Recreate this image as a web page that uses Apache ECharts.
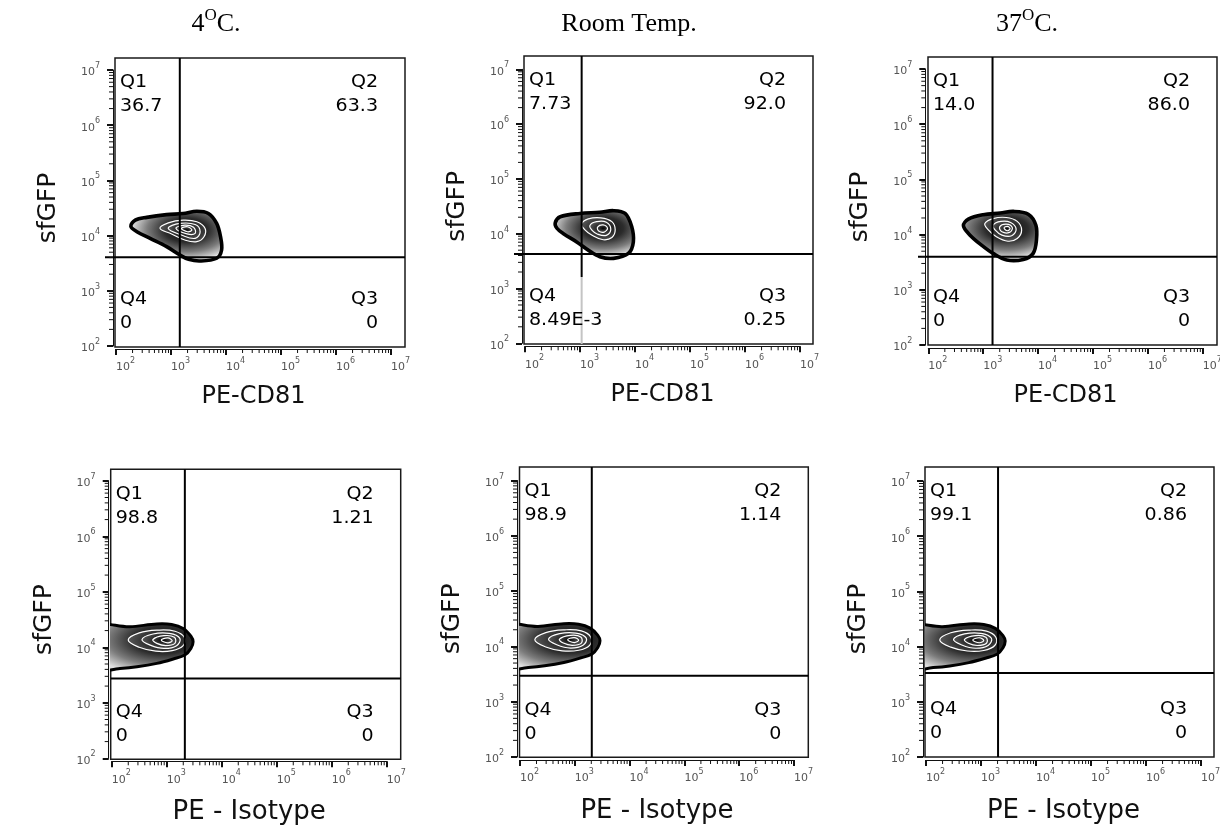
<!DOCTYPE html>
<html><head><meta charset="utf-8">
<script src="https://cdn.jsdelivr.net/npm/echarts@6/dist/echarts.min.js"></script>
<style>html,body{margin:0;padding:0;background:#fff}#c{width:1220px;height:837px}</style>
</head><body><div id="c"></div>
<script>
// ================= DATA =================
// Column (condition) titles; {O} marks the superscript "O"
const conditionTitles = ['4{O}C.', 'Room Temp.', '37{O}C.'];
// Panel order: top row (PE-CD81) left→right, bottom row (PE - Isotype) left→right
const xTitles = ['PE-CD81', 'PE-CD81', 'PE-CD81', 'PE - Isotype', 'PE - Isotype', 'PE - Isotype'];
const yTitle = 'sfGFP';
const quadrantNames = ['Q1', 'Q2', 'Q3', 'Q4'];
const q1Values = ['36.7', '7.73', '14.0', '98.8', '98.9', '99.1'];
const q2Values = ['63.3', '92.0', '86.0', '1.21', '1.14', '0.86'];
const q3Values = ['0', '0.25', '0', '0', '0', '0'];
const q4Values = ['0', '8.49E-3', '0', '0', '0', '0'];
// Axis decades (log10 exponents) used for tick labels
const tickExponents = [2, 3, 4, 5, 6, 7];
// Quadrant gate positions (log10 units)
const gateX = [3.16, 3.03, 3.17, 3.33, 3.31, 3.31];
const gateY = [3.61, 3.63, 3.60, 3.44, 3.47, 3.52];
// lower part of the vertical gate drawn faint below this level (log10), null = none
const gateXFadeBelow = [null, 3.21, null, null, null, null];
// Contour centres (log10 units)
const contourCenters = [[3.28, 4.10], [3.42, 4.10], [3.43, 4.11], [2.94, 4.13], [2.91, 4.12], [2.89, 4.12]];
// Outermost contour of each population (log10 x, log10 y)
const outerContours = [
  [[2.27,4.17],[2.35,4.28],[2.56,4.33],[2.92,4.38],[3.22,4.40],[3.47,4.44],[3.68,4.40],[3.83,4.22],[3.90,3.98],[3.92,3.74],[3.83,3.59],[3.53,3.54],[3.32,3.57],[3.16,3.65],[2.92,3.80],[2.62,3.95],[2.38,4.07]],
  [[2.55,4.20],[2.64,4.31],[3.00,4.37],[3.36,4.39],[3.61,4.42],[3.82,4.37],[3.94,4.13],[3.97,3.85],[3.88,3.64],[3.61,3.55],[3.36,3.58],[3.15,3.70],[2.94,3.85],[2.70,4.00],[2.58,4.10]],
  [[2.64,4.16],[2.73,4.28],[3.00,4.36],[3.31,4.39],[3.55,4.42],[3.82,4.37],[3.96,4.17],[3.97,3.90],[3.91,3.66],[3.73,3.55],[3.43,3.54],[3.18,3.66],[2.97,3.81],[2.76,3.99]],
  [[1.70,4.37],[2.33,4.37],[2.82,4.42],[3.09,4.41],[3.30,4.34],[3.44,4.20],[3.48,4.10],[3.44,3.98],[3.33,3.86],[3.12,3.79],[2.82,3.71],[2.46,3.65],[2.15,3.62],[1.70,3.60]],
  [[1.70,4.36],[2.33,4.36],[2.80,4.41],[3.07,4.40],[3.28,4.33],[3.42,4.20],[3.46,4.10],[3.42,3.98],[3.31,3.86],[3.10,3.79],[2.80,3.71],[2.45,3.65],[2.15,3.62],[1.70,3.60]],
  [[1.70,4.36],[2.30,4.36],[2.78,4.41],[3.05,4.40],[3.26,4.33],[3.40,4.20],[3.44,4.10],[3.40,3.98],[3.29,3.86],[3.08,3.79],[2.78,3.71],[2.43,3.65],[2.13,3.62],[1.70,3.60]]
];
// Inner contour levels (log10 x, log10 y), outermost first
const innerContours = [
  [
    [[2.80,4.13],[2.95,4.23],[3.22,4.28],[3.47,4.25],[3.62,4.13],[3.60,3.98],[3.47,3.89],[3.25,3.92],[3.01,4.03]],
    [[2.95,4.13],[3.16,4.22],[3.44,4.20],[3.53,4.07],[3.44,3.95],[3.19,4.01]],
    [[3.09,4.13],[3.25,4.19],[3.41,4.15],[3.44,4.04],[3.29,4.03]],
    [[3.19,4.13],[3.30,4.16],[3.38,4.10],[3.30,4.07]]
  ],
  [
    [[3.03,4.18],[3.15,4.27],[3.38,4.29],[3.58,4.22],[3.64,4.07],[3.58,3.93],[3.42,3.89],[3.22,3.97],[3.08,4.08]],
    [[3.18,4.15],[3.30,4.22],[3.48,4.21],[3.56,4.08],[3.48,3.97],[3.32,3.99],[3.22,4.06]],
    [[3.32,4.12],[3.42,4.16],[3.50,4.10],[3.44,4.03],[3.34,4.05]]
  ],
  [
    [[3.03,4.20],[3.18,4.29],[3.42,4.31],[3.62,4.24],[3.70,4.08],[3.62,3.93],[3.45,3.88],[3.24,3.96],[3.08,4.10]],
    [[3.18,4.17],[3.32,4.24],[3.50,4.22],[3.60,4.10],[3.52,3.98],[3.34,3.99],[3.22,4.08]],
    [[3.30,4.14],[3.42,4.19],[3.53,4.13],[3.48,4.04],[3.34,4.05]],
    [[3.38,4.12],[3.44,4.15],[3.49,4.11],[3.44,4.07]]
  ],
  [
    [[2.30,4.13],[2.50,4.26],[2.85,4.31],[3.15,4.29],[3.32,4.18],[3.30,4.03],[3.10,3.94],[2.80,3.93],[2.50,4.00]],
    [[2.55,4.14],[2.75,4.24],[3.05,4.25],[3.24,4.16],[3.18,4.03],[2.95,3.98],[2.70,4.04]],
    [[2.75,4.14],[2.95,4.21],[3.14,4.18],[3.15,4.07],[2.98,4.03],[2.82,4.07]],
    [[2.90,4.13],[3.02,4.17],[3.10,4.12],[3.02,4.08]]
  ],
  [
    [[2.27,4.12],[2.47,4.25],[2.82,4.30],[3.12,4.28],[3.29,4.17],[3.27,4.02],[3.07,3.93],[2.77,3.92],[2.47,3.99]],
    [[2.52,4.13],[2.72,4.23],[3.02,4.24],[3.21,4.15],[3.15,4.02],[2.92,3.97],[2.67,4.03]],
    [[2.72,4.13],[2.92,4.20],[3.11,4.17],[3.12,4.06],[2.95,4.02],[2.79,4.06]],
    [[2.87,4.12],[2.99,4.16],[3.07,4.11],[2.99,4.07]]
  ],
  [
    [[2.25,4.12],[2.45,4.25],[2.80,4.30],[3.10,4.28],[3.27,4.17],[3.25,4.02],[3.05,3.93],[2.75,3.92],[2.45,3.99]],
    [[2.50,4.13],[2.70,4.23],[3.00,4.24],[3.19,4.15],[3.13,4.02],[2.90,3.97],[2.65,4.03]],
    [[2.70,4.13],[2.90,4.20],[3.09,4.17],[3.10,4.06],[2.93,4.02],[2.77,4.06]],
    [[2.85,4.12],[2.97,4.16],[3.05,4.11],[2.97,4.07]]
  ]
];

// ================= LAYOUT / STYLE =================
// frame [left, top, right, bottom] px; x0/y0 = pixel of 10^2, dx/dy = px per decade
const layouts = [
  {frame:[115,58,405,347],       x0:116,   dx:55,   y0:346,   dy:55.2, gateExt:10, squash:0.55},
  {frame:[524,56,813,344],       x0:525,   dx:55,   y0:343.3, dy:54.8, gateExt:10, squash:0.55},
  {frame:[928,57,1217,345],      x0:928.3, dx:54.9, y0:345,   dy:55.2, gateExt:10, squash:0.55},
  {frame:[110.7,469.3,400.7,759.3], x0:111.7, dx:55, y0:758.3, dy:55.5, gateExt:0, squash:0.45},
  {frame:[519.5,467,808.3,757.3], x0:520,  dx:54.8, y0:757,   dy:55.3, gateExt:0, squash:0.45},
  {frame:[925,467,1214,757],     x0:926,   dx:55,   y0:757,   dy:55.2, gateExt:0, squash:0.45}
];
const titlePos = [[216, 22], [629, 22], [1027, 22]];
const FONT = '"DejaVu Sans", Verdana, sans-serif';
const outerStops = [{offset:0,color:'#080808'},{offset:0.4,color:'#2c2c2c'},{offset:0.72,color:'#7c7c7c'},{offset:1,color:'#dedede'}];
const ringStops = [{offset:0,color:'#000'},{offset:1,color:'#5c5c5c'}];

// minor tick positions (log10 of 2..9 × 10^n)
const minorTickPos = [];
for (let n = 2; n < 7; n++) for (let k = 2; k <= 9; k++) minorTickPos.push(n + Math.log10(k));

function shadedFill(pts, c, k, stops, rf, xClamp) {
  const local = pts.map(p => [p[0] - c[0], (p[1] - c[1]) / k]);
  let R = 0;
  pts.forEach(p => { const x = Math.max(p[0], xClamp); R = Math.max(R, Math.hypot(x - c[0], (p[1] - c[1]) / k)); });
  return {type:'polygon', x:c[0], y:c[1], scaleY:k,
    shape:{points: local, smooth:0.4},
    style:{fill:{type:'radial', x:0, y:0, r:R * rf, global:true, colorStops:stops}, stroke:null}};
}
function seg(x1, y1, x2, y2, color, w) {
  return {type:'line', shape:{x1, y1, x2, y2}, style:{stroke:color, lineWidth:w}};
}

const option = {animation:false, backgroundColor:'#fff', grid:[], xAxis:[], yAxis:[], series:[], graphic:[]};

layouts.forEach((L, i) => {
  const [l, t, r, b] = L.frame;
  const ex = px => 2 + (px - L.x0) / L.dx;
  const ey = py => 2 + (L.y0 - py) / L.dy;
  // data frame grid
  option.grid.push({left:l, top:t, width:r - l, height:b - t, show:true, borderColor:'#1a1a1a', borderWidth:1.5,
    backgroundColor:'transparent', containLabel:false, outerBoundsMode:'none'});
  // tick grid (10^2..10^7)
  option.grid.push({left:L.x0, top:L.y0 - 5 * L.dy, width:5 * L.dx, height:5 * L.dy, show:false, containLabel:false, outerBoundsMode:'none'});
  option.xAxis.push({gridIndex:2 * i, type:'value', min:ex(l), max:ex(r), show:false});
  option.yAxis.push({gridIndex:2 * i, type:'value', min:ey(b), max:ey(t), show:false});
  const supLabel = v => tickExponents.indexOf(v) >= 0 ? '{b|10}{s|' + v + '}' : '';
  const richTick = {
    b:{fontFamily:FONT, fontSize:11, color:'#555', lineHeight:16, verticalAlign:'bottom'},
    s:{fontFamily:FONT, fontSize:8, color:'#555', lineHeight:9, verticalAlign:'top'}
  };
  option.xAxis.push({gridIndex:2 * i + 1, type:'value', min:2, max:7, interval:1, position:'bottom', offset:3,
    axisLine:{show:true, lineStyle:{color:'#111', width:1}},
    axisTick:{show:true, length:6, lineStyle:{color:'#111', width:2}},
    axisLabel:{show:true, margin:8, align:'left', formatter:supLabel, rich:richTick},
    splitLine:{show:false},
    name:xTitles[i], nameLocation:'middle', nameGap:i < 3 ? 36 : 38, nameMoveOverlap:false,
    nameTextStyle:{fontFamily:FONT, fontSize:i < 3 ? 24 : 26, color:'#111'}});
  option.yAxis.push({gridIndex:2 * i + 1, type:'value', min:2, max:7, interval:1, position:'left', offset:3,
    axisLine:{show:true, lineStyle:{color:'#111', width:1}},
    axisTick:{show:true, length:6, lineStyle:{color:'#111', width:2}},
    axisLabel:{show:true, margin:13, formatter:supLabel, rich:richTick},
    splitLine:{show:false},
    name:yTitle, nameLocation:'middle', nameRotate:90, nameGap:52, nameMoveOverlap:false,
    nameTextStyle:{fontFamily:FONT, fontSize:25, color:'#111'}});

  // contour plot
  option.series.push({type:'custom', xAxisIndex:2 * i, yAxisIndex:2 * i, clip:true, z:2, silent:true,
    data:[contourCenters[i]],
    renderItem:function (params, api) {
      const cs = params.coordSys;
      const c = api.coord(contourCenters[i]);
      const k = L.squash;
      const outerPx = outerContours[i].map(p => api.coord(p));
      const ch = [shadedFill(outerPx, c, k, outerStops, 0.92, cs.x)];
      innerContours[i].forEach(rg => {
        const rp = rg.map(p => api.coord(p));
        ch.push(shadedFill(rp, c, k, ringStops, 1.05, cs.x));
        ch.push({type:'polygon', shape:{points:rp, smooth:0.4}, style:{fill:null, stroke:'#fff', lineWidth:1.2}});
      });
      ch.push({type:'polygon', shape:{points:outerPx, smooth:0.35}, style:{fill:null, stroke:'#000', lineWidth:i < 3 ? 3.6 : 3}});
      return {type:'group', children:ch};
    }});
  // quadrant gates
  option.series.push({type:'custom', xAxisIndex:2 * i, yAxisIndex:2 * i, clip:false, z:3, silent:true,
    data:[[gateX[i], gateY[i]]],
    renderItem:function (params, api) {
      const cs = params.coordSys;
      const p = api.coord([gateX[i], gateY[i]]);
      const ch = [];
      if (gateXFadeBelow[i] != null) {
        const f = api.coord([gateX[i], gateXFadeBelow[i]]);
        ch.push(seg(p[0], cs.y, p[0], f[1], '#000', 2));
        ch.push(seg(p[0], f[1], p[0], cs.y + cs.height, '#c4c4c4', 2));
      } else {
        ch.push(seg(p[0], cs.y, p[0], cs.y + cs.height, '#000', 2));
      }
      ch.push(seg(cs.x - L.gateExt, p[1], cs.x + cs.width, p[1], '#000', 2));
      return {type:'group', children:ch};
    }});
  // quadrant labels
  option.series.push({type:'custom', xAxisIndex:2 * i, yAxisIndex:2 * i, clip:false, z:4, silent:true,
    data:[[gateX[i], gateY[i]]],
    renderItem:function (params, api) {
      const cs = params.coordSys;
      const mk = (x, y, txt, al, va) => ({type:'text', x:x, y:y, scaleX:1.12,
        style:{text:txt, font:'17px ' + FONT, fill:'#000', lineHeight:24, align:al, textAlign:al, verticalAlign:va, textVerticalAlign:va}});
      const L2 = cs.x + 5, R2 = cs.x + cs.width - 27, T2 = cs.y + 13, B2 = cs.y + cs.height - 11;
      return {type:'group', children:[
        mk(L2, T2, quadrantNames[0] + '\n' + q1Values[i], 'left', 'top'),
        mk(R2, T2, quadrantNames[1] + '\n' + q2Values[i], 'right', 'top'),
        mk(R2, B2, quadrantNames[2] + '\n' + q3Values[i], 'right', 'bottom'),
        mk(L2, B2, quadrantNames[3] + '\n' + q4Values[i], 'left', 'bottom')
      ]};
    }});
  // minor ticks (log-spaced) on the tick axes
  option.series.push({type:'custom', xAxisIndex:2 * i + 1, yAxisIndex:2 * i + 1, clip:false, z:3, silent:true,
    data:minorTickPos.map(v => [v, v]),
    renderItem:function (params, api) {
      const v = api.value(0);
      const px = api.coord([v, 2]);
      const py = api.coord([2, v]);
      return {type:'group', children:[
        seg(px[0], px[1] + 3, px[0], px[1] + 7, '#111', 1),
        seg(py[0] - 3, py[1], py[0] - 7, py[1], '#111', 1)
      ]};
    }});
});

// condition titles
conditionTitles.forEach((t, j) => {
  const parts = t.split('{O}');
  const txt = parts.length > 1 ? '{n|' + parts[0] + '}{s|O}{n|' + parts[1] + '}' : '{n|' + t + '}';
  option.graphic.push({type:'text', x:titlePos[j][0], y:titlePos[j][1], silent:true,
    style:{text:txt, align:'center', verticalAlign:'middle',
      rich:{
        n:{fontFamily:'"Liberation Serif", "Times New Roman", serif', fontSize:26, fill:'#000', lineHeight:30, verticalAlign:'bottom'},
        s:{fontFamily:'"Liberation Serif", "Times New Roman", serif', fontSize:17, fill:'#000', lineHeight:18, verticalAlign:'top'}
      }}});
});

const chart = echarts.init(document.getElementById('c'), null, {renderer:'canvas'});
chart.setOption(option);
</script></body></html>
